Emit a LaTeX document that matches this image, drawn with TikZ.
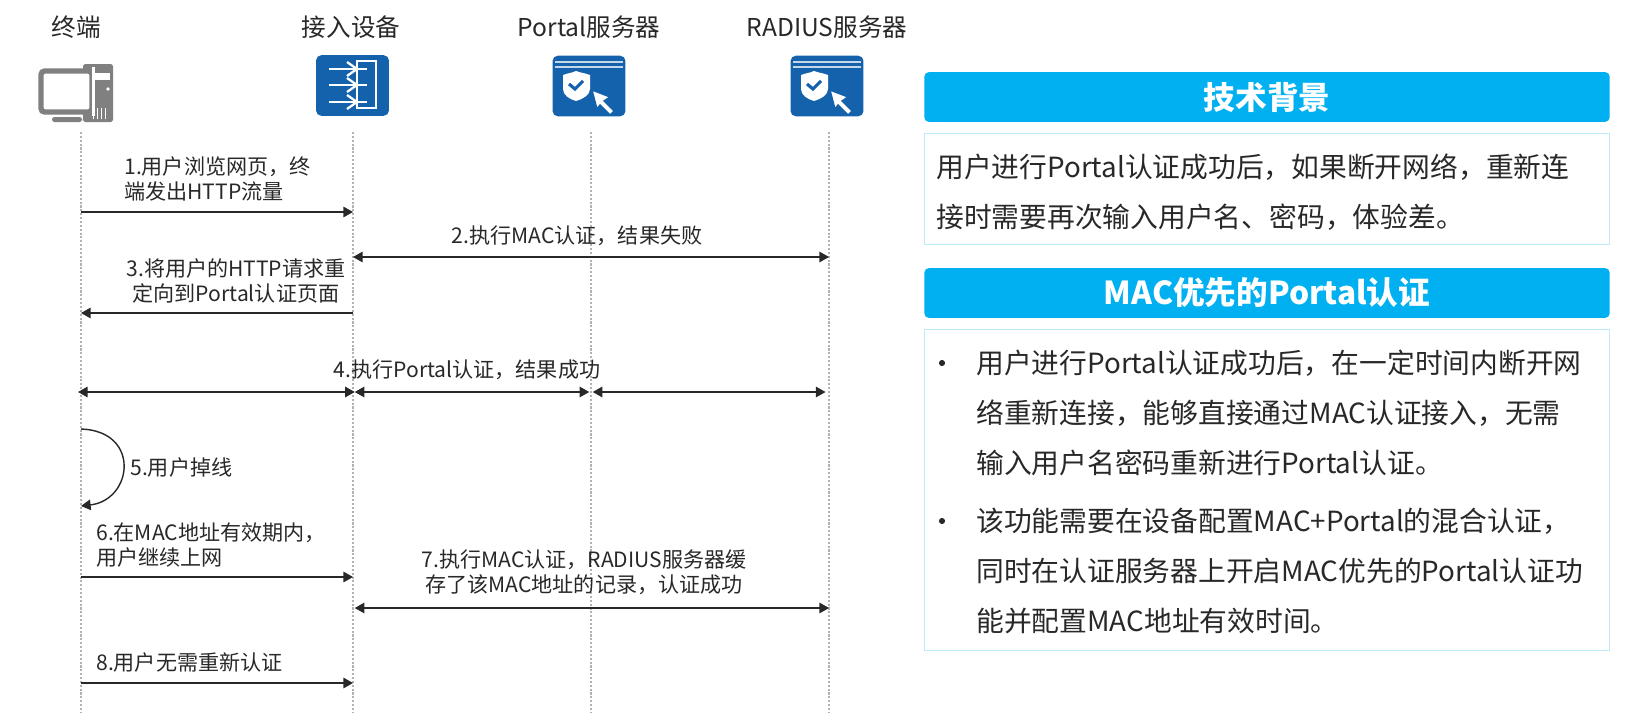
\documentclass[tikz,border=0pt]{standalone}
\usepackage{fontspec}
\setmainfont[Script=CJK]{Noto Sans CJK SC}
\usetikzlibrary{arrows.meta}
\definecolor{IconBlue}{RGB}{21, 98, 172}
\definecolor{TermGray}{RGB}{128, 128, 128}
\definecolor{TitleBlue}{RGB}{0, 176, 240}
\definecolor{FrameBlue}{RGB}{190, 235, 250}
\definecolor{TextDark}{RGB}{40, 40, 40}
\tikzset{
  lifeline/.style={densely dotted, line width=1.2pt, gray!60},
  msg/.style={line width=0.8pt, TextDark, -{Triangle[length=5.5pt, width=6pt]}},
  msgboth/.style={msg, {Triangle[length=5.5pt, width=6pt]}-{Triangle[length=5.5pt, width=6pt]}},
  msglabel/.style={inner sep=0pt, TextDark, font=\fontsize{12}{14.2}\selectfont},
  headlabel/.style={inner sep=0pt, TextDark, font=\fontsize{14}{16}\selectfont},
  iconbox/.style={fill=IconBlue, rounded corners=3pt, minimum width=41.5pt, minimum height=34.5pt, inner sep=0pt},
  titlebar/.style={fill=TitleBlue, rounded corners=2.5pt, text=white, minimum width=390pt, minimum height=28.3pt, inner sep=0pt, font=\fontsize{18}{20}\selectfont\bfseries},
  bodybox/.style={draw=FrameBlue, line width=0.8pt, minimum width=390pt, inner sep=0pt},
  bodytext/.style={inner sep=0pt, align=left, anchor=north west, TextDark, font=\fontsize{15.8}{28.4}\selectfont}
}
\begin{document}
\begin{tikzpicture}[x=0.02cm, y=-0.02cm]
    \useasboundingbox (0,0) rectangle (1632,720);

    % Column headings
    \node[headlabel] (termhead) at (76,27) {终端};
    \node[headlabel] (accesshead) at (351,27) {接入设备};
    \node[headlabel] (portalhead) at (589,27) {Portal服务器};
    \node[headlabel] (radiushead) at (827,27) {RADIUS服务器};

    % Terminal icon
    \fill[TermGray, rounded corners=1pt] (83,64) rectangle (113,122);
    \fill[white] (95,73) rectangle (110,80);
    \fill[white] (108,89) circle (1.8);
    \foreach \x in {93,97,101,105} {
      \draw[white, line width=0.5pt] (\x,108) -- (\x,119);
    }
    \draw[TermGray, line width=3pt, fill=white, rounded corners=2pt] (41,71) rectangle (92,112);
    \fill[white] (92,67) -- (95,67) -- (95,116) -- (92,116) -- cycle;
    \fill[TermGray, rounded corners=1pt] (52,117) rectangle (82,122);

    % Access device icon
    \node[iconbox] (accessicon) at (352.5,85.5) {};
    \draw[white, line width=1.3pt] (357,61) rectangle (376,108);
    \foreach \y in {69,85,102} {
      \draw[white, line width=1.3pt] (329,\y) -- (367,\y);
      \draw[white, line width=1.3pt] (347,\y-7) -- (357,\y) -- (347,\y+7);
    }

    % Server icons
    \foreach \n/\x in {portalicon/589, radiusicon/827} {
      \node[iconbox] (\n) at (\x,86) {};
      \begin{scope}[shift={(\x,86)}]
        \draw[white!75!IconBlue, line width=0.9pt] (-34,-24) -- (34,-24) (-34,-19) -- (34,-19);
        \fill[white] (-13,-15) .. controls (-8,-13) and (-4,-13) .. (1,-11)
          -- (1,3) .. controls (1,9) and (-6,13) .. (-13,15)
          .. controls (-20,13) and (-26,9) .. (-26,3) -- (-26,-11)
          .. controls (-21,-13) and (-17,-13) .. (-13,-15) -- cycle;
        \draw[IconBlue, line width=1.8pt] (-20,-2) -- (-14,3) -- (-6,-5);
        \fill[white, draw=IconBlue, line width=0.8pt] (3,4) -- (21,11) -- (15,15) -- (25,25) -- (21,29) -- (11,19) -- (8,23) -- cycle;
      \end{scope}
    }

    % Lifelines
    \foreach \n/\x in {termline/81, accessline/353, portalline/591, radiusline/829} {
      \coordinate (\n) at (\x,132);
      \coordinate (\n end) at (\x,712);
      \draw[lifeline] (\n) -- (\n end);
    }

    % Heights of the messages
    \foreach \m/\y in {m1/212, m2/257, m3/313, m4/392, m5/429, m6/577, m7/608, m8/683} {
      \coordinate (\m) at (0,\y);
    }

    % Messages
    \foreach \m in {m1, m6, m8} {
      \draw[msg] (termline |- \m) -- (accessline |- \m);
    }
    \draw[msgboth] (accessline |- m2) -- (radiusline |- m2);
    \draw[msg] (accessline |- m3) -- (termline |- m3);
    \draw[msgboth] ([xshift=-1.7pt]termline |- m4) -- ([xshift=1pt]accessline |- m4);
    \draw[msgboth] ([xshift=1pt]accessline |- m4) -- ([xshift=-1pt]portalline |- m4);
    \draw[msgboth] ([xshift=1pt]portalline |- m4) -- ([xshift=-2pt]radiusline |- m4);
    \draw[msgboth] ([xshift=1pt]accessline |- m7) -- (radiusline |- m7);
    \coordinate (m5end) at (81,506);
    \draw[msg] (termline |- m5) .. controls (141,431) and (133,500) .. (m5end);

    % Message labels
    \node[msglabel, align=left, anchor=west] (label1) at (124,179) {1.用户浏览网页，终\\端发出HTTP流量};
    \node[msglabel] (label2) at (577,236) {2.执行MAC认证，结果失败};
    \node[msglabel, align=center] (label3) at (236,281) {3.将用户的HTTP请求重\\定向到Portal认证页面};
    \node[msglabel] (label4) at (467,370) {4.执行Portal认证，结果成功};
    \node[msglabel, anchor=west] (label5) at (130,467) {5.用户掉线};
    \node[msglabel, align=left, anchor=west] (label6) at (96,545) {6.在MAC地址有效期内，\\用户继续上网};
    \node[msglabel, align=center] (label7) at (584,572) {7.执行MAC认证，RADIUS服务器缓\\存了该MAC地址的记录，认证成功};
    \node[msglabel, anchor=west] (label8) at (96,662) {8.用户无需重新认证};

    % Right panels
    \node[titlebar] (bgtitle) at (1267,97) {技术背景};
    \node[bodybox, minimum height=63.5pt] (bgbox) at (1267,189) {};
    \node[bodytext] (bgtext) at (936,153.5) {用户进行Portal认证成功后，如果断开网络，重新连\\接时需要再次输入用户名、密码，体验差。};

    \node[titlebar] (mactitle) at (1267,293) {MAC优先的Portal认证};
    \node[bodybox, minimum height=182.5pt] (macbox) at (1267,490) {};
    \node[bodytext] (mactext1) at (976,349.5) {用户进行Portal认证成功后，在一定时间内断开网\\络重新连接，能够直接通过MAC认证接入，无需\\输入用户名密码重新进行Portal认证。};
    \node[bodytext] (mactext2) at (976,507.5) {该功能需要在设备配置MAC+Portal的混合认证，\\同时在认证服务器上开启MAC优先的Portal认证功\\能并配置MAC地址有效时间。};
    \foreach \n/\y in {bullet1/363, bullet2/521} {
      \node[circle, fill=TextDark, inner sep=0pt, minimum size=3.5pt] (\n) at (942,\y) {};
    }
  \end{tikzpicture}
\end{document}
